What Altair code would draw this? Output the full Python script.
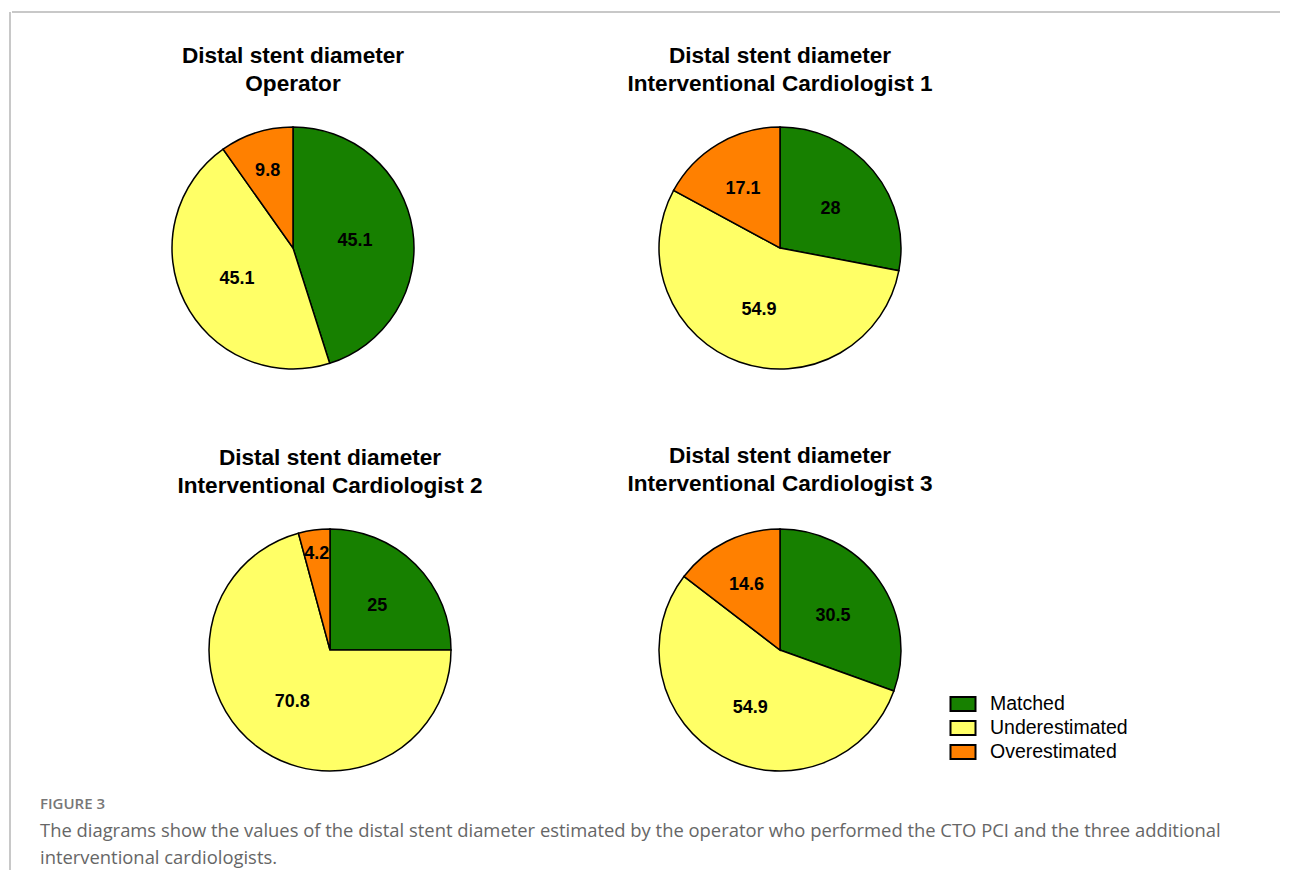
import altair as alt
import pandas as pd

categories = ["Matched", "Underestimated", "Overestimated"]
colors = ["#178000", "#ffff66", "#ff8000"]

panel_names = [
    "Operator",
    "Interventional Cardiologist 1",
    "Interventional Cardiologist 2",
    "Interventional Cardiologist 3",
]
operator_vals = [45.1, 45.1, 9.8]
ic1_vals = [28, 54.9, 17.1]
ic2_vals = [25, 70.8, 4.2]
ic3_vals = [30.5, 54.9, 14.6]

caption_title = "FIGURE 3"
caption_lines = [
    "The diagrams show the values of the distal stent diameter estimated by the operator who performed the CTO PCI and the three additional",
    "interventional cardiologists.",
]

FONT = "Liberation Sans"
RECT = "M-1.042,-0.583H1.042V0.583H-1.042Z"
FRAME = "#c8c8c8"

color_enc = alt.Color(
    "category:N",
    scale=alt.Scale(domain=categories, range=colors),
    legend=alt.Legend(
        title=None,
        orient="none",
        legendX=940,
        legendY=679,
        symbolType=RECT,
        symbolSize=576,
        symbolStrokeColor="black",
        symbolStrokeWidth=2,
        symbolOpacity=1,
        labelFont=FONT,
        labelFontSize=19.5,
        labelColor="black",
        labelOffset=14,
        rowPadding=0,
    ),
)


def pie(vals, name, width, title_offset=28):
    df = pd.DataFrame({"category": categories, "value": vals, "order": [0, 1, 2]})
    arcs = (
        alt.Chart(df)
        .mark_arc(outerRadius=121, stroke="black", strokeWidth=1.5)
        .encode(
            theta=alt.Theta("value:Q", stack=True),
            order=alt.Order("order:Q"),
            color=color_enc,
        )
    )
    labels = (
        alt.Chart(df)
        .transform_window(cum="sum(value)", sort=[alt.SortField("order")])
        .transform_calculate(
            mid="datum.cum - datum.value/2",
            r="62 + 38*exp(-(datum.value-4.2)/10)",
        )
        .mark_text(font=FONT, fontSize=18, fontWeight="bold", color="black", dy=3)
        .encode(
            theta=alt.Theta("mid:Q", stack=None),
            radius=alt.Radius("r:Q", scale=None),
            text=alt.Text("value:Q", format="~g"),
        )
    )
    return alt.layer(arcs, labels).properties(
        width=width,
        height=242,
        title=alt.TitleParams(
            ["Distal stent diameter", name],
            font=FONT,
            fontSize=22.6,
            fontWeight="bold",
            color="black",
            lineHeight=28,
            offset=title_offset,
            anchor="middle",
        ),
    )


# decorative edges of the figure box (top and left border lines)
frame_df = pd.DataFrame({"k": [0]})
top_line = (
    alt.Chart(frame_df)
    .mark_rule(color=FRAME, strokeWidth=2)
    .encode(x=alt.value(0), x2=alt.value(1268), y=alt.value(0))
    .properties(width=1268, height=1)
)
left_line = (
    alt.Chart(frame_df)
    .mark_rule(color=FRAME, strokeWidth=2)
    .encode(x=alt.value(0), y=alt.value(0), y2=alt.value(858))
    .properties(width=1, height=858)
)

pA = pie(operator_vals, panel_names[0], 562)
pB = pie(ic1_vals, panel_names[1], 412)
pC = pie(ic2_vals, panel_names[2], 636)
pD = pie(ic3_vals, panel_names[3], 264, title_offset=30)

top = alt.hconcat(pA, pB, spacing=0)
bottom = alt.hconcat(pC, pD, spacing=0, bounds="flush")

rows = alt.vconcat(top, bottom, spacing=73).properties(
    title=alt.TitleParams(
        caption_title,
        subtitle=caption_lines,
        orient="bottom",
        anchor="start",
        dx=28,
        offset=23,
        font="Open Sans",
        fontSize=15,
        fontWeight=600,
        color="#777777",
        subtitleFont="Open Sans",
        subtitleFontSize=18.4,
        subtitleColor="#666666",
        subtitleLineHeight=27,
        subtitlePadding=10,
    )
)

inner = alt.vconcat(top_line, rows, spacing=32)
chart = (
    alt.hconcat(left_line, inner, spacing=0)
    .properties(padding={"left": 1, "top": 3, "right": 0, "bottom": 2})
    .configure_view(stroke=None)
)

chart.save("out.html", embed_options={"renderer": "svg", "actions": False})
